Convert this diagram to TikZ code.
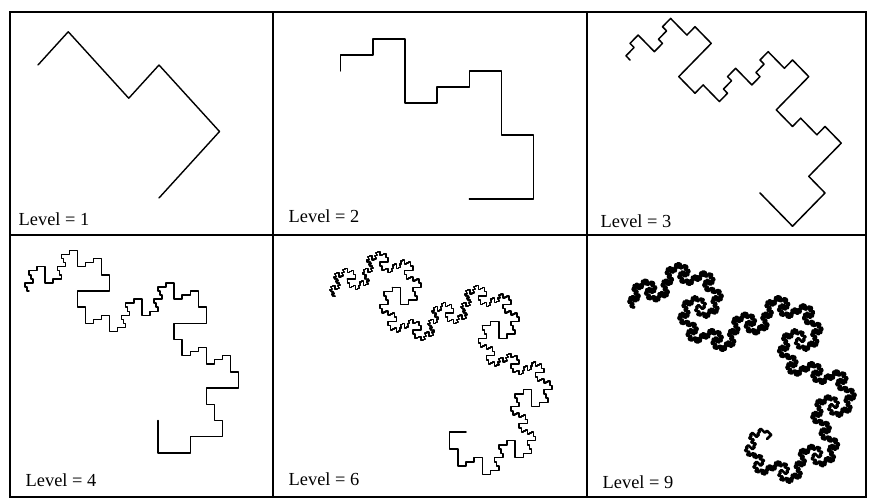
\documentclass[tikz,border=0pt]{standalone}
\usepackage{fontspec}
\setmainfont{Liberation Serif}
\tikzset{
  lv/.style={anchor=base west,inner sep=0pt,font=\fontsize{9.2pt}{11pt}\selectfont},
  frm/.style={line width=0.75pt},
  every picture/.style={line width=0.7pt},
}
% one level of the curve: every stroke but the last -> three strokes, the last -> two
\newcount\dragsegs
\newdimen\dragx
\newdimen\dragy
\def\dragleaf#1#2{%
  \advance\dragx by #1sp \advance\dragy by #2sp
  \pgfpathlineto{\pgfqpoint{\dragx}{\dragy}}%
  \advance\dragsegs by 1
  \ifnum\dragsegs>60 \pgfusepath{stroke}\pgfpathmoveto{\pgfqpoint{\dragx}{\dragy}}\dragsegs=0 \fi}
\def\dragZ#1#2#3{%
  \ifnum#1=0 \dragleaf{#2}{#3}\else
    \edef\dragnext{%
      \noexpand\dragZ{\the\numexpr#1-1\relax}{\the\numexpr(#2-#3)/4\relax}{\the\numexpr(#2+#3)/4\relax}%
      \noexpand\dragZ{\the\numexpr#1-1\relax}{\the\numexpr(#2+#3)/2\relax}{\the\numexpr(#3-#2)/2\relax}%
      \noexpand\dragZ{\the\numexpr#1-1\relax}{\the\numexpr(#2-#3)/4\relax}{\the\numexpr(#2+#3)/4\relax}}%
    \expandafter\dragnext
  \fi}
\def\dragL#1#2#3{%
  \ifnum#1=0 \dragleaf{#2}{#3}\else
    \edef\dragnext{%
      \noexpand\dragZ{\the\numexpr#1-1\relax}{\the\numexpr(#2-#3)/2\relax}{\the\numexpr(#2+#3)/2\relax}%
      \noexpand\dragL{\the\numexpr#1-1\relax}{\the\numexpr(#2+#3)/2\relax}{\the\numexpr(#3-#2)/2\relax}}%
    \expandafter\dragnext
  \fi}
% depth, start x, start y, chord x, chord y (picture pixels), line width
\newcommand\dragpanel[6]{%
  \begin{scope}[shift={(#2,#3)},xscale=#4/2048,yscale=#5/2048,line width=#6]
    \pgfsetroundcap\pgfsetroundjoin
    \dragx=0pt \dragy=0pt \dragsegs=0
    \pgfpathmoveto{\pgfqpoint{0pt}{0pt}}%
    \dragL{#1}{67108864}{-67108864}%
    \pgfusepath{stroke}%
  \end{scope}}

\begin{document}
\begin{tikzpicture}[x=0.5pt,y=-0.5pt]
\useasboundingbox (0,0) rectangle (870,501);
% frame
\draw[frm] (10,12) rectangle (866,497);
\draw[frm] (273,12) -- (273,497); \draw[frm] (587,12) -- (587,497);
\draw[frm] (10,235) -- (866,235);
% labels
\node[lv] (l1) at (18,226) {Level = 1}; \node[lv] (l2) at (288,223) {Level = 2};
\node[lv] (l3) at (600,228) {Level = 3}; \node[lv] (l4) at (25,486.5) {Level = 4};
\node[lv] (l6) at (288,485) {Level = 6}; \node[lv] (l9) at (602,488) {Level = 9};
% curves
\dragpanel{2}{38}{65}{121}{133}{0.7pt}
\dragpanel{3}{340.7}{71}{128.6}{128}{0.7pt}
\dragpanel{4}{630}{60}{130}{133}{0.75pt}
\dragpanel{5}{29}{291}{129}{129.5}{0.7pt}
\dragpanel{7}{335}{296}{131}{136}{0.75pt}
\dragpanel{10}{634}{307}{133}{132}{1.3pt}
\end{tikzpicture}
\end{document}
